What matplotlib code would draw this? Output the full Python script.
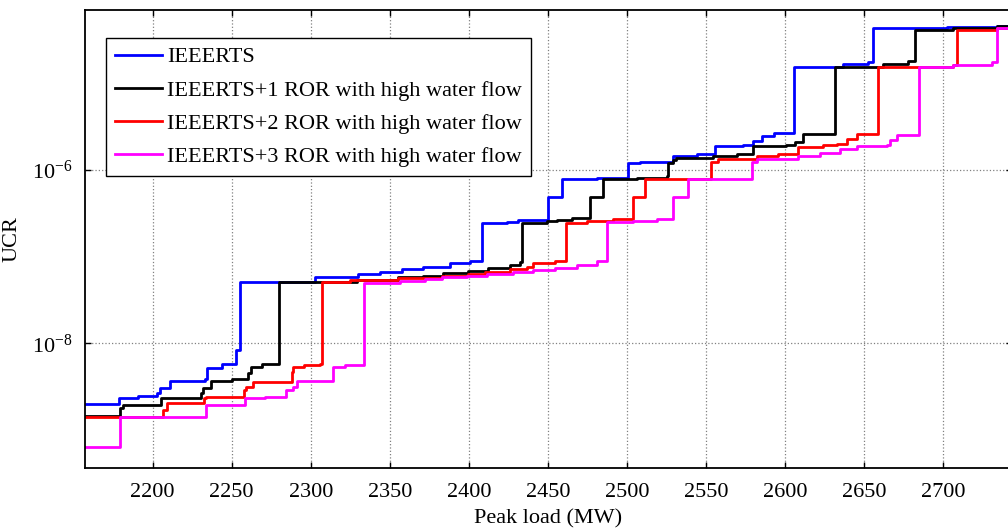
import matplotlib.pyplot as plt
import numpy as np

plt.rcParams['font.family'] = ['Liberation Serif', 'DejaVu Serif']
plt.rcParams['mathtext.fontset'] = 'custom'
plt.rcParams['mathtext.rm'] = 'Liberation Serif'
plt.rcParams['mathtext.it'] = 'Liberation Serif:italic'
plt.rcParams['font.size'] = 16

x_end = 2745

# step start (MW) and UCR level
blue_x = [2157, 2178.7, 2190.7, 2202.7, 2204.6, 2210.9, 2233.1, 2234.3, 2243.8, 2252.7,
          2255.2, 2302.7, 2329.9, 2343.8, 2357.7, 2371, 2388, 2400.7, 2408.1, 2423.9,
          2431.1, 2450, 2458.7, 2480.8, 2500.4, 2508.2, 2529.3, 2544.1, 2555.7, 2573.4,
          2579.7, 2585.4, 2593, 2605.6, 2636.6, 2652.4, 2655.6, 2702.4, 2734]
blue_y = [1.99e-9, 2.33e-9, 2.45e-9, 2.66e-9, 3.04e-9, 3.66e-9, 3.86e-9, 5.17e-9, 5.75e-9, 8.35e-9,
          5.13e-8, 5.89e-8, 6.30e-8, 6.69e-8, 7.19e-8, 7.64e-8, 8.37e-8, 8.97e-8, 2.46e-7, 2.53e-7,
          2.65e-7, 4.92e-7, 7.81e-7, 8.02e-7, 1.214e-6, 1.247e-6, 1.45e-6, 1.53e-6, 1.88e-6, 1.97e-6,
          2.16e-6, 2.47e-6, 2.67e-6, 1.567e-5, 1.66e-5, 1.78e-5, 4.31e-5, 4.51e-5, 4.64e-5]

black_x = [2157, 2179.3, 2181.2, 2205.2, 2230.5, 2231.8, 2236.9, 2250, 2260.3, 2262, 2269.1,
           2280.2, 2329.2, 2355.2, 2371, 2383.6, 2399.4, 2412.1, 2426, 2432.3, 2433.9,
           2449.4, 2455.7, 2465.2, 2476.6, 2484.8, 2506.3, 2525.3, 2526.2, 2529.1, 2531,
           2554.4, 2569.6, 2579.7, 2600.6, 2606.3, 2611.4, 2631.6, 2662, 2677.8, 2682.2,
           2706.3, 2734]
black_y = [1.44e-9, 1.79e-9, 1.93e-9, 2.30e-9, 2.63e-9, 3.04e-9, 3.65e-9, 3.86e-9, 4.53e-9, 5.31e-9, 5.68e-9,
           5.13e-8, 5.44e-8, 5.74e-8, 5.97e-8, 6.42e-8, 6.87e-8, 7.33e-8, 8.00e-8, 8.73e-8, 2.46e-7,
           2.61e-7, 2.68e-7, 2.77e-7, 4.92e-7, 7.81e-7, 8.02e-7, 8.53e-7, 1.214e-6, 1.30e-6, 1.365e-6,
           1.45e-6, 1.53e-6, 1.87e-6, 1.94e-6, 2.12e-6, 2.60e-6, 1.56e-5, 1.67e-5, 1.81e-5, 4.19e-5,
           4.36e-5, 4.64e-5]

red_x = [2157, 2161.6, 2206.5, 2208.9, 2232.4, 2233.7, 2257.7, 2259, 2263.4, 2288.1, 2288.7,
         2295.7, 2305.8, 2307.3, 2324.8, 2355.3, 2382.8, 2399.6, 2410.2, 2426, 2436.6, 2440.7,
         2454.5, 2461.4, 2474.5, 2491.3, 2503.6, 2511.4, 2553.4, 2557.6, 2582.2, 2595.5, 2608.2,
         2624, 2632.9, 2639.3, 2645.6, 2659, 2706.2, 2708.7, 2734]
red_y = [1.39e-9, 1.42e-9, 1.69e-9, 2.02e-9, 2.31e-9, 2.42e-9, 2.88e-9, 3.12e-9, 3.59e-9, 4.69e-9, 5.35e-9,
         5.60e-9, 5.75e-9, 5.13e-8, 5.37e-8, 5.62e-8, 5.97e-8, 6.30e-8, 6.69e-8, 7.13e-8, 7.64e-8, 8.37e-8,
         8.90e-8, 2.46e-7, 2.60e-7, 2.70e-7, 4.92e-7, 7.81e-7, 1.24e-6, 1.34e-6, 1.47e-6, 1.53e-6, 1.86e-6,
         1.94e-6, 2.00e-6, 2.28e-6, 2.64e-6, 1.56e-5, 1.65e-5, 4.19e-5, 4.33e-5]

magenta_x = [2157, 2179.3, 2213, 2233.7, 2258.4, 2271, 2284.3, 2288.7, 2291.1, 2314.2, 2321.6,
             2333.6, 2356.4, 2372.2, 2383, 2398.8, 2411.5, 2427.9, 2440.5, 2454.5, 2468.4, 2481,
             2487.2, 2504, 2518.8, 2529.3, 2538.8, 2578.9, 2582.2, 2608.2, 2622.1, 2634.8, 2645.6,
             2664.6, 2666.5, 2670.9, 2684.4, 2706.2, 2730.9, 2734.3]
magenta_y = [6.38e-10, 1.39e-9, 1.42e-9, 1.93e-9, 2.31e-9, 2.41e-9, 2.88e-9, 3.15e-9, 3.66e-9, 5.31e-9, 5.60e-9,
             5.0e-8, 5.23e-8, 5.47e-8, 5.77e-8, 5.97e-8, 6.30e-8, 6.69e-8, 7.00e-8, 7.33e-8, 8.11e-8, 8.90e-8,
             2.48e-7, 2.60e-7, 2.70e-7, 4.92e-7, 7.81e-7, 1.24e-6, 1.33e-6, 1.45e-6, 1.56e-6, 1.77e-6, 1.87e-6,
             1.97e-6, 2.22e-6, 2.57e-6, 1.56e-5, 1.63e-5, 1.77e-5, 4.31e-5]

series = [(blue_x, blue_y, 'blue', 'IEEERTS'),
          (black_x, black_y, 'black', 'IEEERTS+1 ROR with high water flow'),
          (red_x, red_y, 'red', 'IEEERTS+2 ROR with high water flow'),
          (magenta_x, magenta_y, 'magenta', 'IEEERTS+3 ROR with high water flow')]

fig = plt.figure(figsize=(10.08, 5.29), dpi=100)
ax = fig.add_axes([85/1008, 61/529, 927/1008, 458/529])

for xs, ys, c, lab in series:
    ax.plot(xs + [x_end], ys + [ys[-1]], drawstyle='steps-post', color=c, lw=2, label=lab)

ax.set_yscale('log')
ax.set_xlim(2157.2, 2743.5)
ax.set_ylim(10**-9.441, 10**-4.152)

ax.set_xticks(np.arange(2200, 2701, 50))
ax.set_yticks([1e-8, 1e-6])
ax.set_yticklabels(['$10^{-8}$', '$10^{-6}$'])
ax.yaxis.set_minor_locator(plt.NullLocator())
ax.tick_params(direction='in', top=True, right=True, length=4, width=1, labelsize=16)
ax.tick_params(axis='x', pad=11)
ax.tick_params(axis='y', pad=9)
ax.grid(True, linestyle=':', color='gray', lw=0.9)
for s in ax.spines.values():
    s.set_linewidth(1.3)

ax.set_xlabel('Peak load (MW)', fontsize=16, labelpad=5)
ax.set_ylabel('UCR', fontsize=16)
ax.yaxis.set_label_coords(-0.068, 0.5)

leg = ax.legend(loc='upper left', bbox_to_anchor=(106/1008, 1 - 38/529),
                bbox_transform=fig.transFigure, fontsize=16, frameon=True, fancybox=False,
                borderpad=0.4, labelspacing=0.57, handlelength=2.1, handletextpad=0.25,
                borderaxespad=0)
leg.get_frame().set_edgecolor('black')
leg.get_frame().set_linewidth(1.0)
leg.get_frame().set_alpha(1)

fig.savefig('out.png', dpi=100)
